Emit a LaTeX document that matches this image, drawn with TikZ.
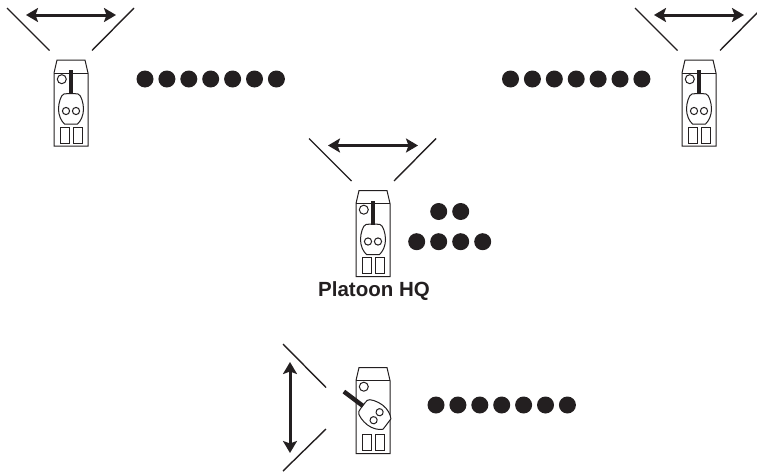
\documentclass[tikz,border=0pt]{standalone}
\usepackage{fontspec}
\setmainfont{Liberation Sans}
\usetikzlibrary{arrows.meta}
\definecolor{ink}{HTML}{231F20}
\tikzset{
  outline/.style={draw=ink,line width=1pt,fill=white},
  sweepline/.style={draw=ink,line width=1.4pt},
  sweeparrow/.style={draw=ink,line width=3pt,{Stealth[length=12pt,width=14pt,inset=2.5pt]}-{Stealth[length=12pt,width=14pt,inset=2.5pt]}},
  soldier/.style={circle,fill=ink,minimum size=17pt,inner sep=0pt,outer sep=0pt},
  gunbar/.style={draw=ink,line width=4.4pt},
  pics/hull/.style={code={
    % origin: centre of the front edge of the hull
    \draw[outline] (-14,0) -- (14,0) -- (17,13) -- (17,86) -- (-17,86) -- (-17,13) -- cycle;
    \draw[outline] (-17,13) -- (17,13);
    \draw[outline] (-9.2,19.2) circle (4.5);
    \draw[outline] (-10.5,67) rectangle (-2,83);
    \draw[outline] (2.5,67) rectangle (11,83);
  }},
  pics/turret/.style={code={
    % origin: centre of the turret, gun pointing up
    \draw[outline] (-7,-15) .. controls (-3,-15.6) and (3,-15.6) .. (7,-15) .. controls (10,-14.5) and (12.5,-6) .. (12.5,0) .. controls (12.5,6) and (10,12) .. (6.5,15) -- (-6.5,15) .. controls (-10,12) and (-12.5,6) .. (-12.5,0) .. controls (-12.5,-6) and (-10,-14.5) .. (-7,-15) -- cycle;
    \draw[outline] (-5,2) circle (3.6);
    \draw[outline] (5,2) circle (3.6);
    \draw[gunbar] (0,-15) -- (0,-39);
  }},
  pics/sweep/.style={code={
    \draw[sweepline] (-64,-52) -- (-21.5,-9.5);
    \draw[sweepline] (63,-52) -- (21,-9.5);
    \draw[sweeparrow] (-45,-45) -- (45,-45);
  }},
}
\begin{document}
\begin{tikzpicture}[x=1pt,y=-1pt]
\useasboundingbox (0,0) rectangle (757,471);
% left
\pic at (71,60) {sweep};
\pic at (71,60) {hull};
\pic at (71,109) {turret};
% right
\pic at (699,60) {sweep};
\pic at (699,60) {hull};
\pic at (699,109) {turret};
% centre
\pic at (373,190.5) {sweep};
\pic at (373,190.5) {hull};
\pic at (373,239.5) {turret};
\node[font=\fontsize{20.5}{24}\selectfont\bfseries,text=ink,inner sep=0pt] (hq) at (374,291) {Platoon HQ};
% bottom
\pic at (373,367.5) {hull};
\pic[rotate=53] at (375,415) {turret};
\draw[sweepline] (283,344) -- (326,387.5);
\draw[sweepline] (283,471) -- (326,429);
\coordinate (a1) at (290,362);
\coordinate (a2) at (290,453);
\draw[sweeparrow] (a1) -- (a2);
% soldiers
\foreach \i in {0,...,6} {
  \node[soldier] (l\i) at (145+21.9*\i,79) {};
  \node[soldier] (r\i) at (510.5+21.9*\i,79) {};
  \node[soldier] (b\i) at (436+21.9*\i,405) {};
}
\node[soldier] (c1) at (438.7,211.5) {};
\node[soldier] (c2) at (460.7,211.5) {};
\foreach \i in {0,...,3} \node[soldier] (d\i) at (416.7+22*\i,241.7) {};
\end{tikzpicture}
\end{document}
